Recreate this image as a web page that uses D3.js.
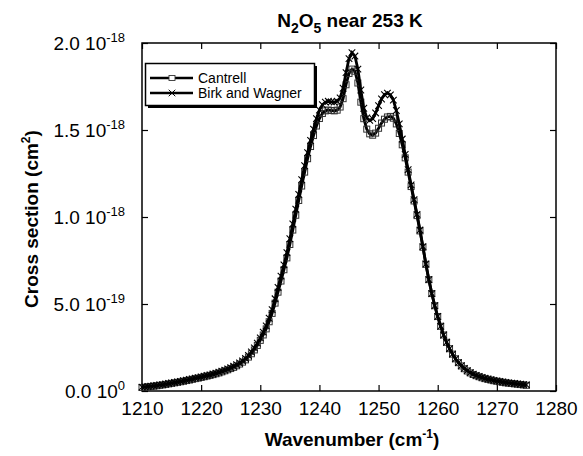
<!DOCTYPE html>
<html><head><meta charset="utf-8">
<script src="https://cdn.jsdelivr.net/npm/d3@7"></script>
<style>
body{margin:0;background:#fff;}
text{font-family:"Liberation Sans",Arial,Helvetica,sans-serif;fill:#000;}
</style></head>
<body><svg id="c" width="583" height="456"></svg>
<script>
const wnStart = 1210, wnStep = 0.5;
const cantrell = [0.020,0.022,0.024,0.026,0.028,0.030,0.033,0.035,0.038,0.041,0.044,0.047,0.050,0.053,0.056,0.060,0.063,0.067,0.071,0.074,
0.078,0.082,0.086,0.090,0.094,0.099,0.104,0.110,0.116,0.122,0.129,0.136,0.145,0.155,0.166,0.179,0.195,0.214,0.236,0.262,
0.291,0.322,0.357,0.398,0.446,0.505,0.568,0.632,0.697,0.765,0.842,0.925,1.010,1.095,1.178,1.258,1.335,1.405,1.468,1.523,
1.566,1.595,1.610,1.615,1.612,1.610,1.614,1.632,1.680,1.760,1.825,1.850,1.838,1.770,1.660,1.565,1.505,1.478,1.470,1.482,
1.510,1.540,1.562,1.575,1.578,1.568,1.535,1.480,1.415,1.340,1.258,1.175,1.092,1.008,0.920,0.826,0.728,0.640,0.560,0.490,
0.428,0.372,0.322,0.280,0.243,0.212,0.185,0.163,0.144,0.128,0.115,0.104,0.095,0.088,0.082,0.076,0.071,0.067,0.063,0.059,
0.056,0.053,0.050,0.047,0.045,0.043,0.041,0.039,0.037,0.035,0.033];
const birk = [0.022,0.024,0.026,0.028,0.030,0.032,0.035,0.037,0.040,0.043,0.046,0.049,0.052,0.055,0.059,0.062,0.066,0.070,0.074,0.077,
0.081,0.085,0.089,0.093,0.098,0.103,0.108,0.114,0.120,0.127,0.134,0.142,0.151,0.161,0.173,0.187,0.204,0.224,0.248,0.275,
0.305,0.338,0.374,0.418,0.468,0.530,0.595,0.660,0.725,0.795,0.875,0.960,1.045,1.130,1.215,1.295,1.370,1.440,1.505,1.565,
1.615,1.645,1.660,1.665,1.662,1.660,1.665,1.685,1.740,1.830,1.910,1.945,1.925,1.850,1.730,1.625,1.570,1.555,1.565,1.598,
1.640,1.678,1.703,1.712,1.702,1.672,1.612,1.535,1.448,1.360,1.272,1.185,1.100,1.015,0.925,0.830,0.730,0.640,0.560,0.490,
0.428,0.372,0.322,0.280,0.243,0.212,0.185,0.163,0.145,0.130,0.117,0.106,0.097,0.090,0.084,0.078,0.073,0.069,0.065,0.061,
0.058,0.055,0.052,0.049,0.047,0.045,0.043,0.041,0.039,0.037,0.035];
const xTicks = [1210,1220,1230,1240,1250,1260,1270,1280];
const yTicks = [0,0.5,1.0,1.5,2.0];
const yTickMant = ["0.0","5.0","1.0","1.5","2.0"];
const yTickExp = ["0","-19","-18","-18","-18"];
const seriesNames = ["Cantrell","Birk and Wagner"];

const svg = d3.select("#c");
const L=142,R=556,T=43,B=391;
const x = d3.scaleLinear().domain([1210,1280]).range([L,R]);
const y = d3.scaleLinear().domain([0,2.0]).range([B,T]);
const toPts = arr => arr.map((v,i)=>[wnStart+i*wnStep, v]);

// frame
svg.append("rect").attr("x",L).attr("y",T).attr("width",R-L).attr("height",B-T)
  .attr("fill","none").attr("stroke","#000").attr("stroke-width",1.5);

// axes with inward ticks
const ax = (g, axis) => { g.call(axis); g.select(".domain").remove(); g.selectAll("line").attr("stroke","#000").attr("stroke-width",1.2); };
const bx = svg.append("g").attr("transform",`translate(0,${B})`);
ax(bx, d3.axisBottom(x).tickValues(xTicks).tickSize(-6).tickPadding(11).tickFormat(d3.format("d")));
bx.selectAll("text").style("font-size","19px").attr("dy","0.71em");
const tx = svg.append("g").attr("transform",`translate(0,${T})`);
ax(tx, d3.axisTop(x).tickValues(xTicks).tickSize(-6).tickFormat(""));
const ly = svg.append("g").attr("transform",`translate(${L},0)`);
ax(ly, d3.axisLeft(y).tickValues(yTicks).tickSize(-6).tickFormat(""));
const ry = svg.append("g").attr("transform",`translate(${R},0)`);
ax(ry, d3.axisRight(y).tickValues(yTicks).tickSize(-6).tickFormat(""));

// y tick labels with superscript exponents
yTicks.forEach((v,i)=>{
  const t = svg.append("text").attr("x",L-17).attr("y",y(v)+7).attr("text-anchor","end").style("font-size","19px");
  t.append("tspan").text(yTickMant[i]+" 10");
  t.append("tspan").attr("dy",-8).style("font-size","13px").text(yTickExp[i]);
});

// series
const line = d3.line().x(d=>x(d[0])).y(d=>y(d[1]));
const cPts = toPts(cantrell), bPts = toPts(birk);
svg.append("path").datum(cPts).attr("d",line).attr("fill","none").attr("stroke","#000").attr("stroke-width",2.8);
svg.append("g").selectAll("rect").data(cPts).join("rect")
  .attr("x",d=>x(d[0])-3).attr("y",d=>y(d[1])-3).attr("width",6).attr("height",6)
  .attr("fill","none").attr("stroke","#333").attr("stroke-width",1);
svg.append("path").datum(bPts).attr("d",line).attr("fill","none").attr("stroke","#000").attr("stroke-width",2.8);
const xm = d3.symbol().type(d3.symbolX).size(30);
svg.append("g").selectAll("path").data(bPts).join("path")
  .attr("transform",d=>`translate(${x(d[0])},${y(d[1])})`).attr("d",xm)
  .attr("fill","none").attr("stroke","#000").attr("stroke-width",1.1);

// legend
const lg = svg.append("g");
lg.append("rect").attr("x",148).attr("y",66).attr("width",169).attr("height",42).attr("fill","#000");
lg.append("rect").attr("x",145.5).attr("y",63.5).attr("width",169).attr("height",42).attr("fill","#fff").attr("stroke","#000").attr("stroke-width",1.5);
[78,93].forEach((yy,i)=>{
  lg.append("line").attr("x1",150).attr("x2",193).attr("y1",yy).attr("y2",yy).attr("stroke","#000").attr("stroke-width",2.4);
  if(i===0) lg.append("rect").attr("x",169).attr("y",yy-2.5).attr("width",6).attr("height",5).attr("fill","#fff").attr("stroke","#333").attr("stroke-width",0.9);
  else lg.append("path").attr("transform",`translate(172,${yy})`).attr("d",xm).attr("fill","none").attr("stroke","#000").attr("stroke-width",1);
  lg.append("text").attr("x",198).attr("y",yy+5).style("font-size","14px").text(seriesNames[i]);
});

// titles
const tt = svg.append("text").attr("x",350).attr("y",27).attr("text-anchor","middle").style("font-size","19px").style("font-weight","bold");
tt.append("tspan").text("N");
tt.append("tspan").attr("dy",6).style("font-size","14px").text("2");
tt.append("tspan").attr("dy",-6).text("O");
tt.append("tspan").attr("dy",6).style("font-size","14px").text("5");
tt.append("tspan").attr("dy",-6).text(" near 253 K");

const xt = svg.append("text").attr("x",352).attr("y",446).attr("text-anchor","middle").style("font-size","19px").style("font-weight","bold");
xt.append("tspan").text("Wavenumber (cm");
xt.append("tspan").attr("dy",-8).style("font-size","12px").text("-1");
xt.append("tspan").attr("dy",8).text(")");

const yt = svg.append("text").attr("transform","translate(38,219) rotate(-90)").attr("text-anchor","middle").style("font-size","19px").style("font-weight","bold");
yt.append("tspan").text("Cross section (cm");
yt.append("tspan").attr("dy",-8).style("font-size","12px").text("2");
yt.append("tspan").attr("dy",8).text(")");
</script></body></html>
